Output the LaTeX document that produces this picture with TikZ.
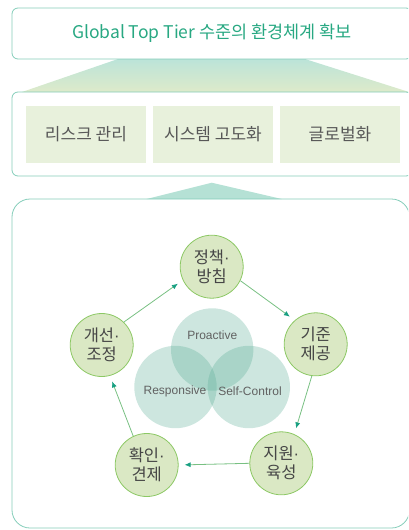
\documentclass[tikz,border=0pt]{standalone}
\usepackage{fontspec}
\setmainfont{Noto Sans CJK KR}
\newfontfamily\latfont{Liberation Sans}
\usetikzlibrary{arrows.meta}
\definecolor{boxteal}{RGB}{132,205,185}
\definecolor{titleteal}{RGB}{40,168,130}
\definecolor{cellgreen}{RGB}{232,241,220}
\definecolor{nodegreen}{RGB}{218,232,196}
\definecolor{nodeline}{RGB}{140,200,100}
\definecolor{venngreen}{RGB}{88,172,148}
\definecolor{arrowline}{RGB}{120,192,130}
\definecolor{arrowtip}{RGB}{25,160,130}
\definecolor{textgray}{RGB}{70,70,70}
\newcommand{\mdot}{{\latfont ·}}

\begin{document}
\begin{tikzpicture}[x=1pt,y=-1pt,
  frame/.style={draw=boxteal,line width=0.8pt,rounded corners=6pt},
  cell/.style={fill=cellgreen,minimum width=120pt,minimum height=57pt,inner sep=0pt,text=textgray!90,font=\fontsize{17}{20}\selectfont},
  stage/.style={circle,draw=nodeline,fill=nodegreen,line width=0.8pt,minimum size=63pt,inner sep=0pt,align=center,text=textgray,font=\fontsize{16.5}{19}\selectfont},
  venn/.style={fill=venngreen,fill opacity=0.3},
  vennlabel/.style={text=black!62,font=\latfont\fontsize{12}{14}\selectfont},
  cyclearrow/.style={draw=arrowline,line width=0.8pt,shorten >=6pt,-{Latex[length=6pt,width=5pt,color=arrowtip]}}]
\useasboundingbox (0,0) rectangle (408,530);
\clip (0,0) rectangle (408,530);
% goal and pillars
\shade[top color=boxteal!55,bottom color=nodegreen!90] (118,59) -- (305,59) -- (409,92) -- (22,92) -- cycle;
\node (goal) at (212,33.5) [frame,minimum width=400pt,minimum height=51pt,text=titleteal,font=\fontsize{17.5}{20}\selectfont] {Global Top Tier 수준의 환경체계 확보};
\draw[frame] (12,92) rectangle (412,176);
\node (risk) at (86,134.5) [cell] {리스크 관리};
\node (system) at (213,134.5) [cell] {시스템 고도화};
\node (global) at (340,134.5) [cell] {글로벌화};
\fill[boxteal!60] (146.7,199) -- (211.7,182.7) -- (281.7,199) -- cycle;
\draw[frame,rounded corners=18pt] (12,199) rectangle (409.5,528);
% venn
\fill[venn] (212.2,349.5) circle (41.2);
\fill[venn] (175.5,387) circle (41.2);
\fill[venn] (248.8,387) circle (41.2);
\node (proactive) at (212.3,335) [vennlabel] {Proactive};
\node (responsive) at (175,391.7) [vennlabel] {Responsive};
\node (selfcontrol) at (250,391.7) [vennlabel] {Self-Control};
% cycle
\node (policy) at (211.7,266.7) [stage] {정책\mdot\\방침};
\node (standard) at (315.7,344.3) [stage] {기준\\제공};
\node (support) at (281.3,463.3) [stage] {지원\mdot\\육성};
\node (check) at (146.7,465) [stage] {확인\mdot\\견제};
\node (improve) at (101.7,345) [stage] {개선\mdot\\조정};
\draw[cyclearrow] (policy.-26) -- (standard.131);
\draw[cyclearrow] (standard.-97) -- (support.66);
\draw[cyclearrow] (support.180) -- (check.0);
\draw[cyclearrow] (check.115) -- (improve.-75);
\draw[cyclearrow] (improve.46) -- (policy.-155);
\end{tikzpicture}
\end{document}
